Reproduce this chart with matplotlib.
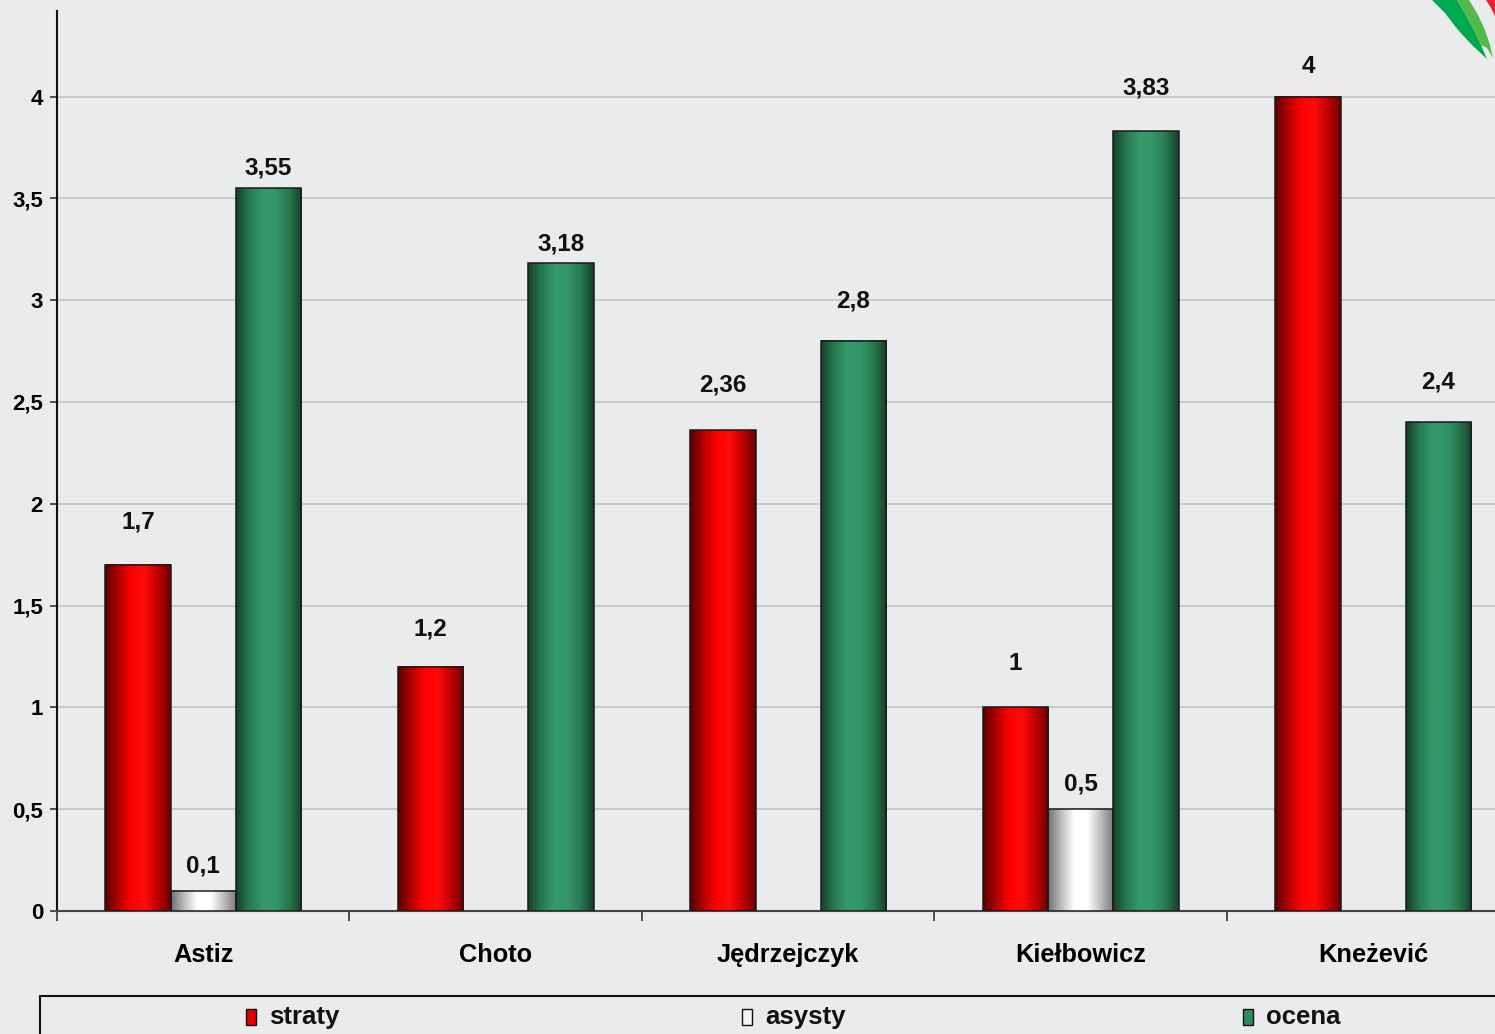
import numpy as np
import matplotlib
matplotlib.use("Agg")
import matplotlib.pyplot as plt
from matplotlib.colors import LinearSegmentedColormap
from matplotlib.patches import Rectangle, Polygon

# ---- data -------------------------------------------------------------
players = ["Astiz", "Choto", "Jędrzejczyk", "Kiełbowicz", "Kneżević"]
series_names = ["straty", "asysty", "ocena"]
straty = [1.7, 1.2, 2.36, 1.0, 4.0]
asysty = [0.1, None, None, 0.5, None]
ocena = [3.55, 3.18, 2.8, 3.83, 2.4]
y_ticks = [0, 0.5, 1, 1.5, 2, 2.5, 3, 3.5, 4]

# ---- style ------------------------------------------------------------
W, H = 1495, 1034
BG = "#eaebed"
FONT = "Liberation Sans"
plt.rcParams["font.family"] = [FONT, "DejaVu Sans"]

# horizontal shading across each bar: dark rim, bright middle
gradients = {
    "straty": ["#5a0000", "#b00000", "#ff0000", "#ff0a0a", "#c00000", "#6a0000"],
    "asysty": ["#6e6e6e", "#bdbdbd", "#ffffff", "#ffffff", "#bdbdbd", "#7a7a7a"],
    "ocena": ["#173f29", "#257a50", "#35996a", "#33966a", "#267a4f", "#173f29"],
}
legend_face = {"straty": "#e00000", "asysty": "#f4f4f4", "ocena": "#2e8b5e"}
# vertical gap between a bar top and its value label, in pixels
label_gap = [[43, 25, 20], [38, 0, 19], [45, 0, 40], [44, 25, 43], [30, 0, 40]]

fig = plt.figure(figsize=(W / 100, H / 100), dpi=100, facecolor=BG)

x0, x1 = 57, 1519.5      # plot area runs slightly past the right edge
y_top, y_zero = 11, 911
ax = fig.add_axes([x0 / W, (H - y_zero) / H, (x1 - x0) / W, (y_zero - y_top) / H])
ax.set_facecolor(BG)
ax.set_xlim(-0.5, len(players) - 0.5)
ax.set_ylim(0, 4.42)

# grid
ax.set_yticks(y_ticks)
ax.set_yticklabels([("%g" % v).replace(".", ",") for v in y_ticks],
                   fontsize=16, fontweight="bold", family=FONT)
ax.yaxis.grid(True, color="#c4c4c4", linewidth=1.2)
ax.set_axisbelow(True)
ax.tick_params(axis="y", length=5, width=1.2, color="#333333", pad=5)

# x ticks at group boundaries, names centred below
ax.set_xticks(np.arange(-0.5, len(players), 1.0))
ax.set_xticklabels([])
ax.set_xticks(np.arange(len(players)), minor=True)
ax.set_xticklabels(players, minor=True, fontsize=18.3, fontweight="bold", family=FONT)
ax.tick_params(axis="x", which="major", length=7, width=1.2, color="#333333", direction="out")
ax.tick_params(axis="x", which="minor", length=0, pad=23)

for s in ["top", "right"]:
    ax.spines[s].set_visible(False)
ax.spines["left"].set_color("#111111")
ax.spines["left"].set_linewidth(1.5)
ax.spines["bottom"].set_color("#444444")
ax.spines["bottom"].set_linewidth(1.5)

bw = 0.223
offsets = [-bw, 0.0, bw]
all_series = [straty, asysty, ocena]
xs = np.arange(len(players))

for si, (name, vals) in enumerate(zip(series_names, all_series)):
    cmap = LinearSegmentedColormap.from_list(name, gradients[name])
    grad = np.linspace(0, 1, 256).reshape(1, -1)
    for i, v in enumerate(vals):
        if v is None:
            continue
        xc = xs[i] + offsets[si]
        bar = ax.bar(xc, v, width=bw, facecolor="none", edgecolor="#1a1a1a",
                     linewidth=1.1, zorder=4)[0]
        bx, by = bar.get_x(), bar.get_y()
        ax.imshow(grad, cmap=cmap, aspect="auto", interpolation="bilinear",
                  extent=(bx, bx + bar.get_width(), by, by + bar.get_height()),
                  zorder=3)
        ax.annotate(("%g" % v).replace(".", ","), (xc, v),
                    xytext=(0, label_gap[i][si]), textcoords="offset pixels",
                    ha="center", va="center", fontsize=17.5, fontweight="bold",
                    family=FONT, color="#111111", zorder=5)

ax.set_xlim(-0.5, len(players) - 0.5)
ax.set_ylim(0, 4.42)


def fx(px):
    return px / W


def fy(py):
    return 1 - py / H


# legend frame along the bottom
fig.patches.append(Rectangle((fx(40), fy(1040)), fx(1470), fy(996) - fy(1040),
                             transform=fig.transFigure, facecolor=BG,
                             edgecolor="#111111", linewidth=1.5))
legend_x = [246, 742, 1243]
for name, lx in zip(series_names, legend_x):
    fig.patches.append(Rectangle((fx(lx), fy(1025)), fx(10), fy(1009) - fy(1025),
                                 transform=fig.transFigure,
                                 facecolor=legend_face[name], edgecolor="#111111",
                                 linewidth=1.0))
    fig.text(fx(lx + 23), fy(1017), name, ha="left", va="center",
             fontsize=18.5, fontweight="bold", family=FONT, color="#111111")

# corner emblem
dark_green = [(1432, 0), (1457, 0), (1466, 15), (1474, 30), (1481, 45), (1487, 59),
              (1472, 45), (1458, 30), (1445, 13)]
light_green = [(1457, 0), (1469, 0), (1478, 15), (1485, 30), (1490, 45), (1493, 58),
               (1487, 48), (1481, 45), (1474, 30), (1466, 15)]
red = [(1486, 0), (1495, 0), (1495, 16), (1491, 8)]
for pts, col in [(dark_green, "#00a84f"), (light_green, "#52ba48"), (red, "#e3262d")]:
    fig.patches.append(Polygon([(fx(a), fy(b)) for a, b in pts], closed=True,
                               transform=fig.transFigure, facecolor=col,
                               edgecolor="none"))

fig.savefig("out.png", dpi=100, facecolor=BG)
